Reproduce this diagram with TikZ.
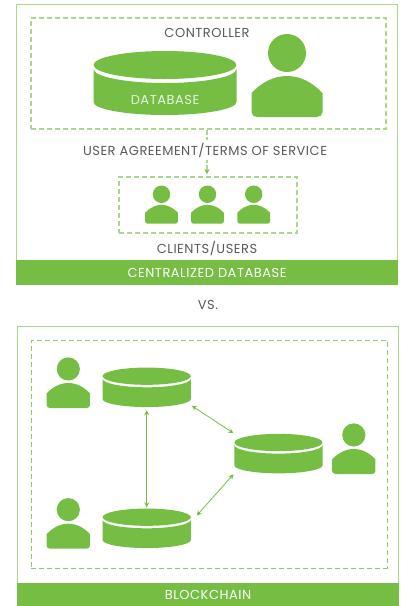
\documentclass[tikz,border=0pt]{standalone}
\usepackage{fontspec}
\setmainfont{Poppins}[LetterSpace=4]
\usetikzlibrary{arrows.meta}

\definecolor{leaf}{HTML}{76BD43}
\definecolor{leaflight}{HTML}{A9D88E}
\definecolor{leafdash}{HTML}{8CCB66}
\definecolor{slate}{HTML}{58595B}

\tikzset{
	frame/.style={draw=leaflight, line width=1pt, shape=rectangle, inner sep=0pt},
	dashbox/.style={draw=leaflight, line width=1.2pt, shape=rectangle, inner sep=0pt, dash pattern=on 5pt off 3pt},
	banner/.style={fill=leaf, text=white, shape=rectangle, inner sep=0pt, minimum width=382pt, font=\fontsize{13}{15}\selectfont},
	caption/.style={text=slate, font=\fontsize{13}{15}\selectfont, inner sep=0pt},
	link/.style={leaf, line width=.8pt, {Stealth[length=5pt,width=5pt]}-{Stealth[length=5pt,width=5pt]}},
}

% name, x, y (top disc centre), scale
\newcommand{\dbicon}[4]{
	\begin{scope}[shift={(#2,#3)}, scale=#4]
		\fill[leaf] (0,0) ellipse [x radius=71.5, y radius=14];
		\fill[leaf] (-71.5,4) arc [start angle=180, end angle=0, x radius=71.5, y radius=14]
			-- (71.5,37) arc [start angle=0, end angle=180, x radius=71.5, y radius=13] -- cycle;
		\node (#1) [shape=rectangle, inner sep=0pt, minimum width=#4*143pt, minimum height=#4*64pt] at (0,18) {};
	\end{scope}
}
% name, x, y (foot centre), scale
\newcommand{\usericon}[4]{
	\begin{scope}[shift={(#2,#3)}, scale=#4]
		\fill[leaf] (0,-64) circle [radius=19];
		\fill[leaf] (-35.5,-24) .. controls (-25,-35) and (-13,-41) .. (0,-41)
			.. controls (13,-41) and (25,-35) .. (35.5,-24) -- (35.5,-5)
			.. controls (35.5,-2) and (33,0) .. (30,0) -- (-30,0)
			.. controls (-33,0) and (-35.5,-2) .. (-35.5,-5) -- cycle;
		\coordinate (#1) at (0,-32);
	\end{scope}
}

\begin{document}
\begin{tikzpicture}[x=1pt, y=-1pt]
	\useasboundingbox (0,0) rectangle (400,606);

	% centralized
	\node (topframe) [frame, minimum width=381pt, minimum height=265pt] at (207,137) {};
	\node (topbanner) [banner, minimum height=25pt] at (207,272.5) {CENTRALIZED DATABASE};
	\node (ctrlbox) [dashbox, minimum width=355pt, minimum height=111pt] at (208.5,73.5) {};
	\node (clientbox) [dashbox, minimum width=178pt, minimum height=56pt] at (208,205) {};
	\node (ctrllabel) [caption] at (207,33) {CONTROLLER};
	\dbicon{bigdb}{165}{65}{1}
	\node (dblabel) [caption, text=white!85!leaf] at (165,100) {DATABASE};
	\usericon{bigusr}{287}{117}{1}
	\usericon{usr1}{161.5}{223.7}{.46}
	\usericon{usr2}{207.5}{223.7}{.46}
	\usericon{usr3}{253.7}{223.7}{.46}
	\node (clientlabel) [caption] at (207,248) {CLIENTS/USERS};
	\coordinate (termstop) at (207,130);
	\coordinate (termsend) at (207,174);
	\draw[leaflight, line width=1.2pt, dash pattern=on 5pt off 2pt, -{Stealth[length=5pt,width=5pt,color=leaf]}]
		(termstop) -- node [pos=.46, xshift=-2pt, fill=white, caption, inner xsep=2pt, inner ysep=3pt] (terms) {USER AGREEMENT/TERMS OF SERVICE} (termsend);

	\node (vslabel) [caption] at (208,305) {VS.};

	% blockchain
	\node (botframe) [frame, minimum width=381pt, minimum height=262pt] at (207.5,457.5) {};
	\node (botbanner) [banner, minimum height=23pt] at (208,594.5) {BLOCKCHAIN};
	\node (chainbox) [dashbox, draw=leafdash, line width=.9pt, minimum width=355.5pt, minimum height=227.5pt] at (209.2,454.2) {};
	\dbicon{db1}{146.7}{376.2}{.617}
	\dbicon{db2}{146.7}{517.2}{.617}
	\dbicon{db3}{278.5}{442.5}{.617}
	\usericon{usr4}{68.3}{408}{.61}
	\usericon{usr5}{68.3}{548.7}{.61}
	\usericon{usr6}{353.8}{474}{.61}
	\draw[link, shorten >=1pt, shorten <=3pt] (db1.south) -- (db2.north);
	\draw[link, shorten >=1pt, shorten <=1pt] (db1.south east) ++(0,-2) coordinate (c1) (c1) -- (db3.north west);
	\draw[link, shorten >=1pt, shorten <=1pt] (db2.north east) ++(5,8) coordinate (c2) (c2) -- (db3.south west);
\end{tikzpicture}
\end{document}
